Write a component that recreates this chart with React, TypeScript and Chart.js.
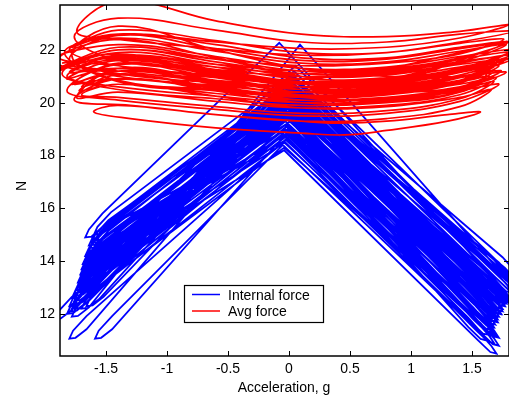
import { useEffect, useRef } from 'react';
import { Chart, registerables } from 'chart.js';

Chart.register(...registerables);

const SERIES_LABELS = ['Internal force', 'Avg force'];
const X_TICKS = [-1.5, -1, -0.5, 0, 0.5, 1, 1.5];
const Y_TICKS = [12, 14, 16, 18, 20, 22];
const X_MIN = -1.877;
const X_MAX = 1.803;
const Y_MIN = 10.41;
const Y_MAX = 23.7;
const X_TITLE = 'Acceleration, g';
const Y_TITLE = 'N';

// Internal force vs acceleration (blue), traced loop by loop
const INTERNAL_FORCE: [number, number][] = [
  [0.0, 20.0],
  [1.57, 12.4], [1.67, 11.96], [1.72, 11.9], [1.68, 12.18], [1.57, 12.75],
  [-0.02, 19.7],
  [-1.56, 14.15], [-1.67, 13.6], [-1.7, 13.3], [-1.65, 13.33], [-1.56, 13.65],
  [0.02, 20.5],
  [1.63, 13.0], [1.73, 12.56], [1.78, 12.5], [1.74, 12.78], [1.63, 13.35],
  [0.0, 20.2],
  [-1.52, 14.75], [-1.63, 14.2], [-1.66, 13.9], [-1.61, 13.93], [-1.52, 14.25],
  [-0.01, 19.4],
  [1.51, 11.9], [1.61, 11.46], [1.66, 11.4], [1.62, 11.68], [1.51, 12.25],
  [-0.03, 19.0],
  [-1.6, 13.55], [-1.71, 13.0], [-1.74, 12.7], [-1.69, 12.73], [-1.6, 13.05],
  [0.03, 20.9],
  [1.69, 13.4], [1.79, 12.96], [1.84, 12.9], [1.8, 13.18], [1.69, 13.75],
  [0.01, 20.6],
  [-1.48, 15.15], [-1.59, 14.6], [-1.62, 14.3], [-1.57, 14.33], [-1.48, 14.65],
  [0.0, 19.8],
  [1.55, 12.2], [1.65, 11.76], [1.7, 11.7], [1.66, 11.98], [1.55, 12.55],
  [-0.02, 19.5],
  [-1.66, 13.15], [-1.77, 12.6], [-1.8, 12.3], [-1.75, 12.33], [-1.66, 12.65],
  [0.04, 21.2],
  [1.73, 13.5], [1.83, 13.06], [1.88, 13.0], [1.84, 13.28], [1.73, 13.85],
  [0.02, 20.8],
  [-1.5, 15.45], [-1.61, 14.9], [-1.64, 14.6], [-1.59, 14.63], [-1.5, 14.95],
  [-0.02, 19.2],
  [1.47, 11.5], [1.57, 11.06], [1.62, 11.0], [1.58, 11.28], [1.47, 11.85],
  [-0.04, 18.8],
  [-1.64, 12.75], [-1.75, 12.2], [-1.78, 11.9], [-1.73, 11.93], [-1.64, 12.25],
  [0.09, 22.2],
  [1.77, 13.4], [1.87, 12.96], [1.92, 12.9], [1.88, 13.18], [1.77, 13.75],
  [0.03, 20.4],
  [-1.54, 14.55], [-1.65, 14.0], [-1.68, 13.7], [-1.63, 13.73], [-1.54, 14.05],
  [0.01, 20.1],
  [1.59, 12.7], [1.69, 12.26], [1.74, 12.2], [1.7, 12.48], [1.59, 13.05],
  [-0.01, 19.9],
  [-1.58, 13.85], [-1.69, 13.3], [-1.72, 13.0], [-1.67, 13.03], [-1.58, 13.35],
  [0.0, 19.6],
  [1.54, 12.1], [1.64, 11.66], [1.69, 11.6], [1.65, 11.88], [1.54, 12.45],
  [-0.03, 19.3],
  [-1.62, 13.35], [-1.73, 12.8], [-1.76, 12.5], [-1.71, 12.53], [-1.62, 12.85],
  [0.02, 20.7],
  [1.65, 13.1], [1.75, 12.66], [1.8, 12.6], [1.76, 12.88], [1.65, 13.45],
  [-0.08, 22.27],
  [-1.53, 15.8], [-1.64, 15.2], [-1.67, 14.9], [-1.62, 14.93], [-1.53, 15.3],
  [0.01, 20.3],
  [1.61, 12.8], [1.71, 12.36], [1.76, 12.3], [1.72, 12.58], [1.61, 13.15],
  [0.0, 20.0],
  [-1.56, 14.35], [-1.67, 13.8], [-1.7, 13.5], [-1.65, 13.53], [-1.56, 13.85],
  [-0.04, 18.2],
  [1.55, 11.0], [1.65, 10.56], [1.7, 10.5], [1.66, 10.78], [1.55, 11.35],
  [-0.05, 18.4],
  [-1.45, 11.92], [-1.56, 11.37], [-1.59, 11.07], [-1.54, 11.1], [-1.45, 11.42],
  [-0.01, 18.9],
  [1.57, 11.6], [1.67, 11.16], [1.72, 11.1], [1.68, 11.38], [1.57, 11.95],
  [-0.03, 18.6],
  [-1.66, 11.92], [-1.77, 11.37], [-1.8, 11.07], [-1.75, 11.1], [-1.66, 11.42],
  [0.02, 20.4],
  [1.67, 12.9], [1.77, 12.46], [1.82, 12.4], [1.78, 12.68], [1.67, 13.25],
  [0.0, 20.1],
  [-1.51, 14.95], [-1.62, 14.4], [-1.65, 14.1], [-1.6, 14.13], [-1.51, 14.45],
  [0.0, 19.9],
  [1.58, 12.5], [1.68, 12.06], [1.73, 12.0], [1.69, 12.28], [1.58, 12.85],
  [-0.02, 19.6],
  [-1.78, 12.65], [-1.89, 12.1], [-1.92, 11.8], [-1.87, 11.83], [-1.78, 12.15],
  [0.03, 21.0],
  [1.71, 13.3], [1.81, 12.86], [1.86, 12.8], [1.82, 13.08], [1.71, 13.65],
  [0.01, 20.7],
  [-1.49, 15.35], [-1.6, 14.8], [-1.63, 14.5], [-1.58, 14.53], [-1.49, 14.85],
  [0.0, 19.5],
  [1.53, 12.0], [1.63, 11.56], [1.68, 11.5], [1.64, 11.78], [1.53, 12.35],
  [-0.02, 19.2],
  [-1.61, 13.75], [-1.72, 13.2], [-1.75, 12.9], [-1.7, 12.93], [-1.61, 13.25],
  [0.01, 20.2],
  [1.62, 12.8], [1.72, 12.36], [1.77, 12.3], [1.73, 12.58], [1.62, 13.15],
  [-0.01, 19.9],
  [-1.55, 14.45], [-1.66, 13.9], [-1.69, 13.6], [-1.64, 13.63], [-1.55, 13.95],
  [-0.03, 18.5],
  [1.57, 11.3], [1.67, 10.86], [1.72, 10.8], [1.68, 11.08], [1.57, 11.65],
  [-0.04, 18.3],
  [-1.56, 13.05], [-1.67, 12.5], [-1.7, 12.2], [-1.65, 12.23], [-1.56, 12.55],
  [0.02, 20.6],
  [1.64, 13.2], [1.74, 12.76], [1.79, 12.7], [1.75, 12.98], [1.64, 13.55],
  [0.0, 20.3],
  [-1.52, 14.85], [-1.63, 14.3], [-1.66, 14.0], [-1.61, 14.03], [-1.52, 14.35],
  [0.0, 19.7],
  [1.56, 12.3], [1.66, 11.86], [1.71, 11.8], [1.67, 12.08], [1.56, 12.65],
  [-0.02, 19.4],
  [-1.59, 14.05], [-1.7, 13.5], [-1.73, 13.2], [-1.68, 13.23], [-1.59, 13.55],
  [0.02, 20.8],
  [1.68, 13.7], [1.78, 13.26], [1.83, 13.2], [1.79, 13.48], [1.68, 14.05],
  [0.01, 20.5],
  [-1.44, 15.65], [-1.55, 15.1], [-1.58, 14.8], [-1.53, 14.83], [-1.44, 15.15],
  [0.0, 20.0],
  [1.6, 12.6], [1.7, 12.16], [1.75, 12.1], [1.71, 12.38], [1.6, 12.95],
  [-0.01, 19.8],
  [-1.57, 14.25], [-1.68, 13.7], [-1.71, 13.4], [-1.66, 13.43], [-1.57, 13.75],
  [0.01, 19.3],
  [1.51, 11.8], [1.61, 11.36], [1.66, 11.3], [1.62, 11.58], [1.51, 12.15],
  [-0.02, 19.1],
  [-1.63, 13.05], [-1.74, 12.5], [-1.77, 12.2], [-1.72, 12.23], [-1.63, 12.55],
  [0.02, 20.5],
  [1.63, 12.9], [1.73, 12.46], [1.78, 12.4], [1.74, 12.68], [1.63, 13.25],
  [0.0, 20.2],
  [-1.54, 14.65], [-1.65, 14.1], [-1.68, 13.8], [-1.63, 13.83], [-1.54, 14.15],
  [0.05, 21.4],
  [1.75, 13.8], [1.85, 13.36], [1.9, 13.3], [1.86, 13.58], [1.75, 14.15],
  [0.02, 21.0],
  [-1.46, 15.85], [-1.57, 15.3], [-1.6, 15.0], [-1.55, 15.03], [-1.46, 15.35],
  [-0.01, 19.0],
  [1.49, 11.7], [1.59, 11.26], [1.64, 11.2], [1.6, 11.48], [1.49, 12.05],
  [-0.03, 18.7],
  [-1.68, 12.85], [-1.79, 12.3], [-1.82, 12.0], [-1.77, 12.03], [-1.68, 12.35],
  [0.02, 20.3],
  [1.66, 13.1], [1.76, 12.66], [1.81, 12.6], [1.77, 12.88], [1.66, 13.45],
  [-0.01, 20.0],
  [-1.55, 14.75], [-1.66, 14.2], [-1.69, 13.9], [-1.64, 13.93], [-1.55, 14.25],
  [0.0, 19.4],
  [1.52, 12.0], [1.62, 11.56], [1.67, 11.5], [1.63, 11.78], [1.52, 12.35],
  [-0.02, 19.2],
  [-1.6, 13.75], [-1.71, 13.2], [-1.74, 12.9], [-1.69, 12.93], [-1.6, 13.25],
  [0.04, 20.9],
  [1.7, 13.5], [1.8, 13.06], [1.85, 13.0], [1.81, 13.28], [1.7, 13.85],
  [0.02, 20.6],
  [-1.5, 15.25], [-1.61, 14.7], [-1.64, 14.4], [-1.59, 14.43], [-1.5, 14.75],
  [-0.02, 18.6],
  [1.53, 11.4], [1.63, 10.96], [1.68, 10.9], [1.64, 11.18], [1.53, 11.75],
  [-0.04, 18.5],
  [-1.52, 13.15], [-1.63, 12.6], [-1.66, 12.3], [-1.61, 12.33], [-1.52, 12.65],
  [0.01, 20.0],
  [1.59, 12.5], [1.69, 12.06], [1.74, 12.0], [1.7, 12.28], [1.59, 12.85],
  [0.0, 19.8],
  [-1.58, 14.15], [-1.69, 13.6], [-1.72, 13.3], [-1.67, 13.33], [-1.58, 13.65],
  [0.03, 20.6],
  [1.64, 13.0], [1.74, 12.56], [1.79, 12.5], [1.75, 12.78], [1.64, 13.35],
  [0.01, 20.4],
  [-1.53, 15.05], [-1.64, 14.5], [-1.67, 14.2], [-1.62, 14.23], [-1.53, 14.55],
  [0.0, 19.7],
  [1.55, 12.4], [1.65, 11.96], [1.7, 11.9], [1.66, 12.18], [1.55, 12.75],
  [-0.02, 19.5],
  [-1.64, 13.45], [-1.75, 12.9], [-1.78, 12.6], [-1.73, 12.63], [-1.64, 12.95],
  [0.02, 21.1],
  [1.72, 13.6], [1.82, 13.16], [1.87, 13.1], [1.83, 13.38], [1.72, 13.95],
  [0.0, 20.5],
  [-1.48, 15.55], [-1.59, 15.0], [-1.62, 14.7], [-1.57, 14.73], [-1.48, 15.05],
  [-0.01, 19.2],
  [1.5, 11.9], [1.6, 11.46], [1.65, 11.4], [1.61, 11.68], [1.5, 12.25],
  [-0.03, 19.0],
  [-1.61, 13.25], [-1.72, 12.7], [-1.75, 12.4], [-1.7, 12.43], [-1.61, 12.75],
  [0.01, 20.4],
  [1.61, 12.9], [1.71, 12.46], [1.76, 12.4], [1.72, 12.68], [1.61, 13.25],
  [-0.01, 20.1],
  [-1.56, 14.55], [-1.67, 14.0], [-1.7, 13.7], [-1.65, 13.73], [-1.56, 14.05],
  [0.0, 19.9],
  [1.57, 12.6], [1.67, 12.16], [1.72, 12.1], [1.68, 12.38], [1.57, 12.95],
  [-0.02, 19.7],
  [-1.59, 13.95], [-1.7, 13.4], [-1.73, 13.1], [-1.68, 13.13], [-1.59, 13.45],
  [0.03, 20.7],
  [1.68, 13.3], [1.78, 12.86], [1.83, 12.8], [1.79, 13.08], [1.68, 13.65],
  [0.01, 20.3],
  [-1.51, 15.15], [-1.62, 14.6], [-1.65, 14.3], [-1.6, 14.33], [-1.51, 14.65],
  [-0.02, 18.8],
  [1.54, 11.7], [1.64, 11.26], [1.69, 11.2], [1.65, 11.48], [1.54, 12.05],
  [-0.03, 18.9],
  [-1.65, 12.95], [-1.76, 12.4], [-1.79, 12.1], [-1.74, 12.13], [-1.65, 12.45],
  [0.01, 20.2],
  [1.6, 12.7], [1.7, 12.26], [1.75, 12.2], [1.71, 12.48], [1.6, 13.05],
  [0.0, 19.9],
  [-1.57, 14.35], [-1.68, 13.8], [-1.71, 13.5], [-1.66, 13.53], [-1.57, 13.85],
  [0.02, 20.5],
  [1.65, 13.0], [1.75, 12.56], [1.8, 12.5], [1.76, 12.78], [1.65, 13.35],
  [0.01, 20.2],
  [-1.53, 14.85], [-1.64, 14.3], [-1.67, 14.0], [-1.62, 14.03], [-1.53, 14.35],
  [0.0, 19.6],
  [1.56, 12.2], [1.66, 11.76], [1.71, 11.7], [1.67, 11.98], [1.56, 12.55],
  [-0.01, 19.4],
  [-1.62, 13.65], [-1.73, 13.1], [-1.76, 12.8], [-1.71, 12.83], [-1.62, 13.15],
  [0.0, 19.9],
];

// Average force vs acceleration (red), traced loop by loop
const AVG_FORCE: [number, number][] = [
  [-1.86, 21.5], [-1.4, 21.85], [-0.6, 21.35], [0.1, 20.9], [0.8, 20.95], [1.4, 21.35], [1.76, 21.6], [1.4, 20.95], [0.8, 20.5], [0.1, 20.4], [-0.6, 20.65], [-1.4, 21.0],
  [-1.94, 21.6], [-1.4, 22.2], [-0.6, 21.75], [0.1, 21.3], [0.8, 21.35], [1.4, 21.75], [1.84, 22.0], [1.4, 21.3], [0.8, 20.9], [0.1, 20.8], [-0.6, 21.05], [-1.4, 21.4],
  [-1.8, 22.0], [-1.4, 22.6], [-0.6, 22.2], [0.1, 21.7], [0.8, 21.7], [1.4, 22.1], [1.8, 22.3], [1.4, 21.7], [0.8, 21.3], [0.1, 21.2], [-0.6, 21.45], [-1.4, 21.8],
  [-1.9, 21.2], [-1.4, 22.0], [-0.6, 21.55], [0.1, 21.1], [0.8, 21.15], [1.4, 21.55], [1.86, 21.8], [1.4, 21.15], [0.8, 20.7], [0.1, 20.6], [-0.6, 20.85], [-1.4, 21.2],
  [-1.78, 20.7], [-1.4, 21.5], [-0.6, 21.05], [0.1, 20.6], [0.8, 20.65], [1.4, 21.0], [1.74, 21.2], [1.4, 20.6], [0.8, 20.2], [0.1, 20.1], [-0.6, 20.35], [-1.4, 20.7],
  [-1.72, 20.45], [-1.4, 21.05], [-0.6, 20.55], [0.1, 20.1], [0.8, 20.15], [1.4, 20.5], [1.68, 20.8], [1.4, 20.15], [0.8, 19.7], [0.1, 19.6], [-0.6, 19.85], [-1.4, 20.2],
  [-1.7, 20.3], [-1.4, 20.7], [-0.6, 20.25], [0.1, 19.8], [0.8, 19.85], [1.4, 20.2], [1.66, 20.5], [1.4, 19.85], [0.8, 19.4], [0.1, 19.3], [-0.6, 19.55], [-1.4, 19.9],
  [-1.6, 19.65], [-1.3, 19.4], [-0.6, 19.05], [0.1, 18.85], [0.45, 18.78], [0.8, 18.95], [1.3, 19.3], [1.57, 19.65], [1.3, 19.55], [0.8, 19.3], [0.4, 19.23], [0.1, 19.3], [-0.6, 19.55], [-1.3, 19.9],
  [-1.76, 20.1], [-1.4, 20.9], [-0.6, 20.45], [0.1, 20.0], [0.8, 20.05], [1.4, 20.45], [1.72, 20.7], [1.4, 20.05], [0.8, 19.6], [0.1, 19.5], [-0.6, 19.75], [-1.4, 20.1],
  [-1.82, 20.45], [-1.4, 21.45], [-0.6, 20.95], [0.1, 20.5], [0.8, 20.55], [1.4, 20.95], [1.78, 21.15], [1.4, 20.55], [0.8, 20.1], [0.1, 20.0], [-0.6, 20.25], [-1.4, 20.6],
  [-1.82, 21.0], [-1.4, 21.65], [-0.6, 21.15], [0.1, 20.7], [0.8, 20.75], [1.4, 21.15], [1.72, 21.4], [1.4, 20.75], [0.8, 20.3], [0.1, 20.2], [-0.6, 20.45], [-1.4, 20.8],
  [-1.84, 21.9], [-1.4, 22.45], [-0.6, 21.95], [0.1, 21.5], [0.8, 21.55], [1.4, 21.95], [1.78, 22.2], [1.4, 21.55], [0.8, 21.1], [0.1, 21.0], [-0.6, 21.25], [-1.4, 21.6],
  [-1.76, 22.5], [-1.4, 23.2], [-0.6, 22.75], [0.1, 22.3], [0.8, 22.3], [1.4, 22.6], [1.84, 22.7], [1.4, 22.3], [0.8, 21.9], [0.1, 21.8], [-0.6, 22.05], [-1.4, 22.4],
  [-1.74, 22.7], [-1.4, 23.85], [-0.6, 23.1], [0.1, 22.6], [0.8, 22.5], [1.4, 22.7], [1.8, 22.95], [1.4, 22.45], [0.8, 22.1], [0.1, 22.05], [-0.6, 22.3], [-1.4, 22.6],
  [-1.78, 22.1], [-1.4, 22.75], [-0.6, 22.35], [0.1, 21.9], [0.8, 21.9], [1.4, 22.25], [1.76, 22.4], [1.4, 21.85], [0.8, 21.5], [0.1, 21.4], [-0.6, 21.65], [-1.4, 22.0],
  [-1.88, 21.3], [-1.4, 22.1], [-0.6, 21.65], [0.1, 21.2], [0.8, 21.25], [1.4, 21.65], [1.8, 21.9], [1.4, 21.25], [0.8, 20.8], [0.1, 20.7], [-0.6, 20.95], [-1.4, 21.3],
  [-1.8, 21.15], [-1.4, 21.75], [-0.6, 21.25], [0.1, 20.8], [0.8, 20.85], [1.4, 21.25], [1.7, 21.5], [1.4, 20.85], [0.8, 20.4], [0.1, 20.3], [-0.6, 20.55], [-1.4, 20.9],
  [-1.7, 20.6], [-1.4, 21.2], [-0.6, 20.75], [0.1, 20.3], [0.8, 20.35], [1.4, 20.7], [1.7, 20.95], [1.4, 20.3], [0.8, 19.9], [0.1, 19.8], [-0.6, 20.05], [-1.4, 20.4],
  [-1.74, 20.2], [-1.4, 21.3], [-0.6, 20.85], [0.1, 20.4], [0.8, 20.45], [1.4, 20.85], [1.62, 21.1], [1.4, 20.4], [0.8, 20.0], [0.1, 19.9], [-0.6, 20.15], [-1.4, 20.5],
  [-1.86, 21.1], [-1.4, 21.9], [-0.6, 21.45], [0.1, 21.0], [0.8, 21.05], [1.4, 21.45], [1.82, 21.65], [1.4, 21.05], [0.8, 20.6], [0.1, 20.5], [-0.6, 20.75], [-1.4, 21.1],
  [-1.8, 21.65], [-1.4, 22.55], [-0.6, 22.05], [0.1, 21.6], [0.8, 21.65], [1.4, 22.05], [1.76, 22.25], [1.4, 21.65], [0.8, 21.2], [0.1, 21.1], [-0.6, 21.35], [-1.4, 21.7],
  [-1.84, 21.4], [-1.4, 21.7], [-0.6, 21.2], [0.1, 20.75], [0.8, 20.8], [1.4, 21.2], [1.7, 21.45], [1.4, 20.8], [0.8, 20.35], [0.1, 20.25], [-0.6, 20.5], [-1.4, 20.85],
  [-1.78, 21.8], [-1.4, 22.9], [-0.6, 22.0], [0.1, 21.3], [0.8, 21.0], [1.4, 21.0], [1.68, 21.2], [1.4, 20.6], [0.8, 20.4], [0.1, 20.6], [-0.6, 21.1], [-1.4, 21.6],
  [-1.82, 20.9], [-1.4, 21.3], [-0.6, 20.7], [0.1, 20.4], [0.8, 20.7], [1.4, 21.6], [1.8, 22.3], [1.4, 21.9], [0.8, 21.3], [0.1, 20.9], [-0.6, 21.0], [-1.4, 21.4],
  [-1.88, 21.7], [-1.4, 22.4], [-0.6, 21.7], [0.1, 21.0], [0.8, 20.7], [1.4, 20.8], [1.64, 21.0], [1.4, 20.4], [0.8, 20.1], [0.1, 20.2], [-0.6, 20.6], [-1.4, 20.9],
  [-1.76, 20.7], [-1.4, 21.1], [-0.6, 20.6], [0.1, 20.2], [0.8, 20.4], [1.4, 21.2], [1.82, 21.8], [1.4, 21.5], [0.8, 20.9], [0.1, 20.6], [-0.6, 20.8], [-1.4, 21.2],
  [-1.84, 21.4],
];

const BLUE = '#0000ff';
const RED = '#ff0000';
const FONT = '"Liberation Sans", Arial, Helvetica, sans-serif';

const decorPlugin = {
  id: 'decor',
  afterDatasetsDraw(chart: any) {
    const { ctx, chartArea: a, scales } = chart;
    const xs = scales.x;
    const ys = scales.y;
    ctx.save();
    ctx.strokeStyle = '#000';
    ctx.lineWidth = 1.5;
    ctx.strokeRect(a.left, a.top, a.right - a.left, a.bottom - a.top);
    ctx.lineWidth = 1;
    ctx.beginPath();
    const tl = 5;
    X_TICKS.forEach((v) => {
      const px = Math.round(xs.getPixelForValue(v)) + 0.5;
      ctx.moveTo(px, a.bottom);
      ctx.lineTo(px, a.bottom - tl);
      ctx.moveTo(px, a.top);
      ctx.lineTo(px, a.top + tl);
    });
    Y_TICKS.forEach((v) => {
      const py = Math.round(ys.getPixelForValue(v)) + 0.5;
      ctx.moveTo(a.left, py);
      ctx.lineTo(a.left + tl, py);
      ctx.moveTo(a.right, py);
      ctx.lineTo(a.right - tl, py);
    });
    ctx.stroke();

    // legend
    const lx = 184.5, ly = 285.5, lw = 139, lh = 37;
    ctx.fillStyle = '#fff';
    ctx.fillRect(lx, ly, lw, lh);
    ctx.lineWidth = 1.2;
    ctx.strokeStyle = '#000';
    ctx.strokeRect(lx, ly, lw, lh);
    ctx.lineWidth = 1.5;
    ctx.strokeStyle = BLUE;
    ctx.beginPath();
    ctx.moveTo(192, 294.5);
    ctx.lineTo(220, 294.5);
    ctx.stroke();
    ctx.strokeStyle = RED;
    ctx.beginPath();
    ctx.moveTo(192, 311);
    ctx.lineTo(220, 311);
    ctx.stroke();
    ctx.fillStyle = '#000';
    ctx.font = `14px ${FONT}`;
    ctx.textAlign = 'left';
    ctx.textBaseline = 'alphabetic';
    ctx.fillText(SERIES_LABELS[0], 228, 299.5);
    ctx.fillText(SERIES_LABELS[1], 228, 315.5);

    // axis titles
    ctx.textAlign = 'center';
    ctx.fillText(X_TITLE, 284, 391.5);
    ctx.save();
    ctx.translate(26, 186);
    ctx.rotate(-Math.PI / 2);
    ctx.fillText(Y_TITLE, 0, 0);
    ctx.restore();
    ctx.restore();
  },
};

export default function App() {
  const ref = useRef<HTMLCanvasElement>(null);
  useEffect(() => {
    const chart = new Chart(ref.current as HTMLCanvasElement, {
      type: 'scatter',
      data: {
        datasets: [
          {
            label: SERIES_LABELS[1],
            data: AVG_FORCE.map(([x, y]) => ({ x, y })),
            showLine: true,
            borderColor: RED,
            backgroundColor: RED,
            borderWidth: 1.7,
            pointRadius: 0,
            tension: 0.4,
            fill: false,
          },
          {
            label: SERIES_LABELS[0],
            data: INTERNAL_FORCE.map(([x, y]) => ({ x, y })),
            showLine: true,
            borderColor: BLUE,
            backgroundColor: BLUE,
            borderWidth: 1.8,
            pointRadius: 0,
            tension: 0,
            fill: false,
          },
        ],
      },
      options: {
        responsive: false,
        maintainAspectRatio: false,
        animation: false,
        events: [],
        layout: { padding: { top: 5, left: 0, right: 0, bottom: 0 } },
        plugins: { legend: { display: false }, tooltip: { enabled: false } },
        scales: {
          x: {
            type: 'linear',
            min: X_MIN,
            max: X_MAX,
            grid: { display: false, drawTicks: false },
            border: { display: false },
            ticks: {
              color: '#000',
              font: { family: FONT, size: 14 },
              padding: 5,
              maxRotation: 0,
              autoSkip: false,
              callback: (v: any) => `${v}`,
            },
            afterBuildTicks: (s: any) => {
              s.ticks = X_TICKS.map((v) => ({ value: v }));
            },
            afterFit: (s: any) => {
              s.height = 40;
              s.paddingLeft = 0;
              s.paddingRight = 0;
            },
          },
          y: {
            type: 'linear',
            min: Y_MIN,
            max: Y_MAX,
            grid: { display: false, drawTicks: false },
            border: { display: false },
            ticks: {
              color: '#000',
              font: { family: FONT, size: 14 },
              padding: 5,
              autoSkip: false,
              callback: (v: any) => `${v}`,
            },
            afterBuildTicks: (s: any) => {
              s.ticks = Y_TICKS.map((v) => ({ value: v }));
            },
            afterFit: (s: any) => {
              s.width = 60;
              s.paddingTop = 0;
              s.paddingBottom = 0;
            },
          },
        },
      },
      plugins: [decorPlugin],
    });
    return () => chart.destroy();
  }, []);
  return (
    <div style={{ position: 'absolute', left: 0, top: 0, width: 509, height: 396, background: '#fff' }}>
      <canvas ref={ref} width={509} height={396} style={{ display: 'block' }} />
    </div>
  );
}
